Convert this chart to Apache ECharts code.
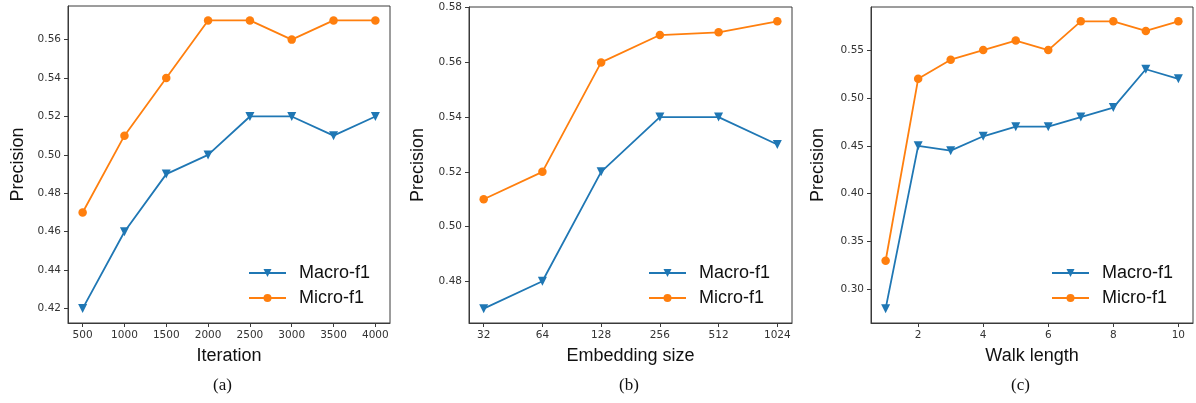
<!DOCTYPE html>
<html><head><meta charset="utf-8">
<script src="https://cdn.jsdelivr.net/npm/echarts@6/dist/echarts.min.js"></script>
<style>html,body{margin:0;padding:0;background:#fff}#c{width:1196px;height:403px}</style>
</head><body><div id="c"></div>
<script>
// ---- data ----
const iterations = [500, 1000, 1500, 2000, 2500, 3000, 3500, 4000];
const iterMacro = [0.42, 0.46, 0.49, 0.50, 0.52, 0.52, 0.51, 0.52];
const iterMicro = [0.47, 0.51, 0.54, 0.57, 0.57, 0.56, 0.57, 0.57];

const embedSizes = [32, 64, 128, 256, 512, 1024];
const embedMacro = [0.47, 0.48, 0.52, 0.54, 0.54, 0.53];
const embedMicro = [0.51, 0.52, 0.56, 0.570, 0.571, 0.575];

const walkLengths = [1, 2, 3, 4, 5, 6, 7, 8, 9, 10];
const walkMacro = [0.28, 0.45, 0.445, 0.46, 0.47, 0.47, 0.48, 0.49, 0.53, 0.52];
const walkMicro = [0.33, 0.52, 0.54, 0.55, 0.56, 0.55, 0.58, 0.58, 0.57, 0.58];

const iterTicks = [500, 1000, 1500, 2000, 2500, 3000, 3500, 4000];
const embedTicks = [32, 64, 128, 256, 512, 1024];
const walkTicks = [2, 4, 6, 8, 10];
const yTicksA = [0.42, 0.44, 0.46, 0.48, 0.50, 0.52, 0.54, 0.56];
const yTicksB = [0.48, 0.50, 0.52, 0.54, 0.56, 0.58];
const yTicksC = [0.30, 0.35, 0.40, 0.45, 0.50, 0.55];

const seriesNames = ['Macro-f1', 'Micro-f1'];
const captions = ['(a)', '(b)', '(c)'];
const xNames = ['Iteration', 'Embedding size', 'Walk length'];
const yName = 'Precision';

// ---- chart ----
const BLUE = '#1f77b4', ORANGE = '#ff7f0e', AX = '#3a3a3a';
const tickFont = {fontFamily: 'DejaVu Sans', fontSize: 10.5, color: '#333'};
const nameFont = {fontFamily: 'Liberation Sans', fontSize: 18, color: '#111'};

const grids = [
  {left: 68, top: 6, width: 322, height: 317},
  {left: 469, top: 7, width: 323, height: 316},
  {left: 871, top: 7, width: 322, height: 316}
].map(g => Object.assign({show: true, borderColor: AX, borderWidth: 1, backgroundColor: 'transparent'}, g));

function axisCommon(ticks, fmt, margin) {
  return {
    axisLine: {show: true, onZero: false, lineStyle: {color: AX, width: 1}},
    axisTick: {show: true, customValues: ticks, length: 4, lineStyle: {color: AX}},
    axisLabel: Object.assign({customValues: ticks, formatter: fmt, margin: margin}, tickFont),
    splitLine: {show: false}
  };
}
const log2 = v => Math.log2(v);
const fx = [
  v => String(Math.round(v)),
  v => String(Math.round(Math.pow(2, v))),
  v => String(Math.round(v))
];
const yfmt = v => v.toFixed(2);

const xAxes = [
  Object.assign({type: 'value', gridIndex: 0, min: 325, max: 4175}, axisCommon(iterTicks, fx[0], 7)),
  Object.assign({type: 'value', gridIndex: 1, min: 4.75, max: 10.25}, axisCommon(embedTicks.map(log2), fx[1], 7)),
  Object.assign({type: 'value', gridIndex: 2, min: 0.55, max: 10.45}, axisCommon(walkTicks, fx[2], 7))
];
const nameGapsX = [24, 24, 24];
xAxes.forEach((a, i) => Object.assign(a, {name: xNames[i], nameLocation: 'middle', nameGap: nameGapsX[i], nameTextStyle: nameFont}));

const yAxes = [
  Object.assign({type: 'value', gridIndex: 0, min: 0.4125, max: 0.5775}, axisCommon(yTicksA, yfmt, 7)),
  Object.assign({type: 'value', gridIndex: 1, min: 0.46475, max: 0.58025}, axisCommon(yTicksB, yfmt, 7)),
  Object.assign({type: 'value', gridIndex: 2, min: 0.265, max: 0.595}, axisCommon(yTicksC, yfmt, 7))
];
const nameGapsY = [41, 42, 44];
yAxes.forEach((a, i) => Object.assign(a, {name: yName, nameLocation: 'middle', nameGap: nameGapsY[i], nameTextStyle: nameFont}));

function mk(name, gi, xs, ys, isMacro) {
  return {
    type: 'line', name: name, xAxisIndex: gi, yAxisIndex: gi,
    data: xs.map((x, i) => [x, ys[i]]),
    symbol: isMacro ? 'triangle' : 'circle',
    symbolRotate: isMacro ? 180 : 0,
    symbolSize: isMacro ? 9 : 8.5,
    showAllSymbol: true,
    lineStyle: {width: 1.8, color: isMacro ? BLUE : ORANGE},
    itemStyle: {color: isMacro ? BLUE : ORANGE},
    animation: false, z: isMacro ? 2 : 3
  };
}
const series = [
  mk(seriesNames[0], 0, iterations, iterMacro, true),
  mk(seriesNames[1], 0, iterations, iterMicro, false),
  mk(seriesNames[0], 1, embedSizes.map(log2), embedMacro, true),
  mk(seriesNames[1], 1, embedSizes.map(log2), embedMicro, false),
  mk(seriesNames[0], 2, walkLengths, walkMacro, true),
  mk(seriesNames[1], 2, walkLengths, walkMicro, false)
];

const legendLefts = [248, 648, 1051];
const legends = legendLefts.map(l => ({
  data: seriesNames, left: l, top: 263, orient: 'vertical', padding: 0,
  itemWidth: 37, itemHeight: 10, itemGap: 5, selectedMode: false,
  textStyle: {fontFamily: 'Liberation Sans', fontSize: 18, color: '#111', lineHeight: 20, padding: [0, 0, 0, 8]}
}));

const capX = [224, 630, 1022];
const graphics = captions.map((t, i) => ({
  type: 'text', left: capX[i] - 11, top: 377,
  style: {text: t, font: '17px "Liberation Serif"', fill: '#111'}
}));

const chart = echarts.init(document.getElementById('c'), null, {renderer: 'canvas'});
chart.setOption({
  animation: false,
  grid: grids, xAxis: xAxes, yAxis: yAxes, series: series,
  legend: legends, graphic: graphics
});
</script></body></html>
